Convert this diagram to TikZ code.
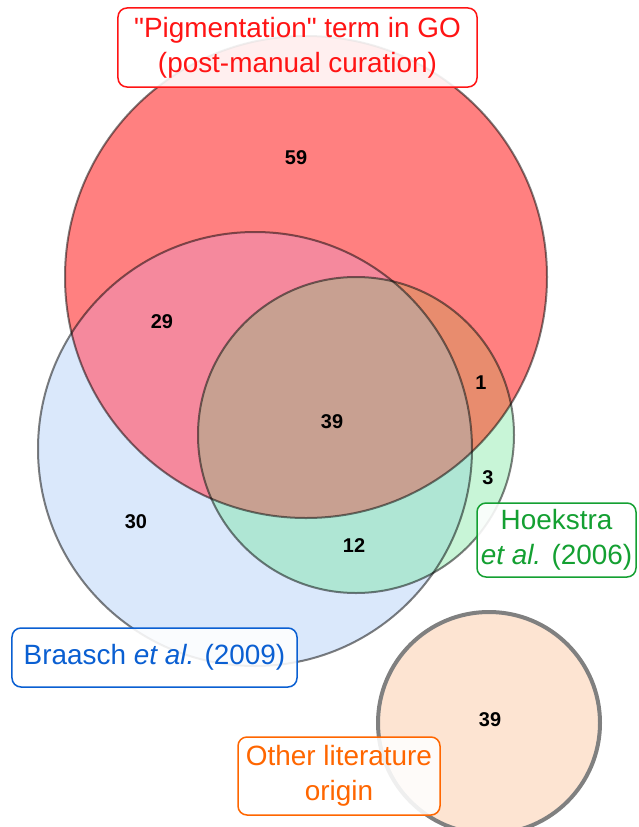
\documentclass[tikz,border=0pt]{standalone}
\usepackage{fontspec}
\setmainfont{Liberation Sans}
\usepackage{tikz}

\definecolor{goRed}{RGB}{255,128,128}
\definecolor{brBlue}{RGB}{218,232,251}
\definecolor{hoGreen}{RGB}{200,245,215}
\definecolor{redBlue}{RGB}{245,137,157}
\definecolor{blueGreen}{RGB}{175,230,212}
\definecolor{redGreen}{RGB}{232,140,110}
\definecolor{allThree}{RGB}{200,160,145}
\definecolor{otherFill}{RGB}{253,228,210}
\definecolor{txtRed}{RGB}{255,20,20}
\definecolor{txtBlue}{RGB}{10,95,210}
\definecolor{txtGreen}{RGB}{20,160,50}
\definecolor{txtOrange}{RGB}{255,102,0}

\newcommand{\goCirc}{(306,277) circle (241)}
\newcommand{\brCirc}{(255,449) circle (217)}
\newcommand{\hoCirc}{(356,435) circle (158)}

\begin{document}
\begin{tikzpicture}[x=1bp,y=-1bp,
	lbl/.style={draw, line width=1.5bp, rounded corners=9bp, fill=white, fill opacity=0.88, text opacity=1, align=center, inner sep=0pt, font=\fontsize{28}{35}\selectfont},
	num/.style={font=\fontsize{20}{24}\selectfont\bfseries},
	rim/.style={draw=black, draw opacity=0.5, line width=2bp}]
	\useasboundingbox (0,0) rectangle (639,827);

	% plain fills
	\fill[brBlue] \brCirc;
	\fill[goRed] \goCirc;
	\fill[hoGreen] \hoCirc;
	% overlaps
	\begin{scope}
		\clip \goCirc;
		\fill[redBlue] \brCirc;
		\fill[redGreen] \hoCirc;
	\end{scope}
	\begin{scope}
		\clip \brCirc;
		\fill[blueGreen] \hoCirc;
		\clip \goCirc;
		\fill[allThree] \hoCirc;
	\end{scope}
	% outlines
	\draw[rim] \brCirc;
	\draw[rim] \goCirc;
	\draw[rim] \hoCirc;

	% other literature
	\draw[fill=otherFill, draw=black!50, line width=4bp] (489,723) circle (111);

	% counts
	\node[num] (n59) at (296,158) {59};
	\node[num] (n29) at (162,322) {29};
	\node[num] (n39) at (332,422) {39};
	\node[num] (n1) at (481,383) {1};
	\node[num] (n3) at (488,478) {3};
	\node[num] (n30) at (136,522) {30};
	\node[num] (n12) at (354,546) {12};
	\node[num] (nOther) at (490,720) {39};

	% set labels
	\node[lbl, draw=txtRed, text=txtRed, minimum width=359bp, minimum height=79bp] (goLbl) at (297.5,47.5) {\textquotedbl Pigmentation\textquotedbl{} term in GO\\(post-manual curation)};
	\node[lbl, draw=txtGreen, text=txtGreen, minimum width=159bp, minimum height=74bp] (hoLbl) at (556.5,540) {Hoekstra\\\textit{et al.} (2006)};
	\node[lbl, draw=txtBlue, text=txtBlue, minimum width=285bp, minimum height=59bp] (brLbl) at (154.5,657.5) {Braasch \textit{et al.} (2009)};
	\node[lbl, draw=txtOrange, text=txtOrange, minimum width=202bp, minimum height=78bp] (otLbl) at (339,776) {Other literature\\origin};
\end{tikzpicture}
\end{document}
